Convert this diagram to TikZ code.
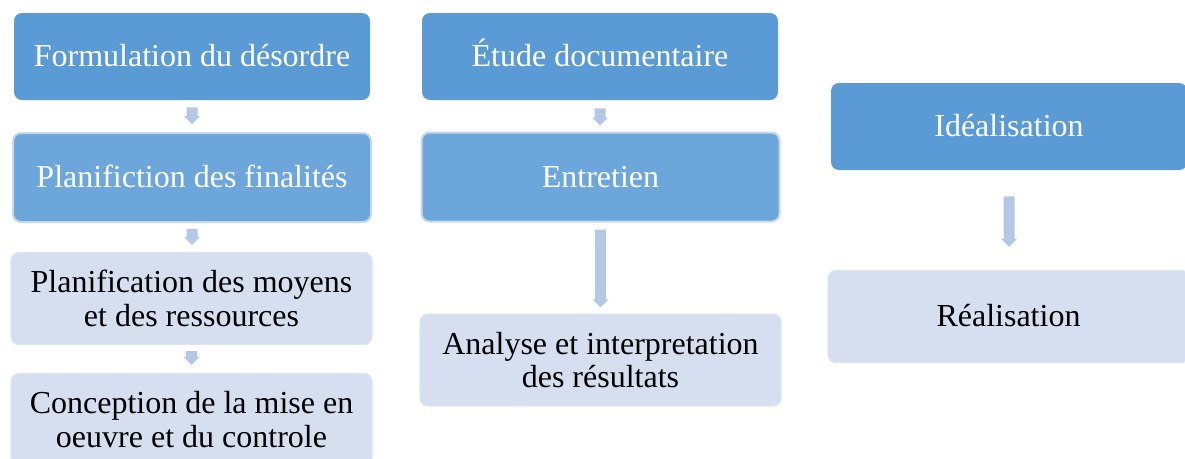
\documentclass[tikz,border=0pt]{standalone}
\usepackage{fontspec}
\setmainfont{Liberation Serif}
\usetikzlibrary{calc}

\definecolor{darkblue}{HTML}{5B9BD5}
\definecolor{midblue}{HTML}{6DA6DA}
\definecolor{glowblue}{HTML}{C7D8EE}
\definecolor{paleblue}{HTML}{D5DFF0}
\definecolor{paleedge}{HTML}{DDE6F4}
\definecolor{arrowblue}{HTML}{B4C7E7}

\tikzset{
  box/.style={rectangle, rounded corners=6pt, inner sep=0pt, align=center,
    font=\fontsize{24}{25}\selectfont,
    minimum width=267pt, minimum height=65.25pt},
  oneline/.style={text height=20pt, text depth=5pt},
  darkbox/.style={box, fill=darkblue, text=white},
  midbox/.style={box, fill=midblue, draw=glowblue, line width=1.5pt, text=white,
    minimum width=268.5pt, minimum height=66.75pt},
  palebox/.style={box, fill=paleblue, draw=paleedge, line width=1pt, text=black,
    minimum width=270.75pt, minimum height=69pt},
}

% Block arrow from the bottom of #1 to the top of #2;
% #3 = gap under #1, #4 = gap above #2 (both in px units)
\newcommand\blockarrow[4]{%
  \fill[arrowblue] let \p1=(#1.south), \p2=(#2.north) in
    ({\x1-4.125pt},{\y1-#3*0.75pt}) -- ({\x1+4.125pt},{\y1-#3*0.75pt})
    -- ({\x1+4.125pt},{\y2+(#4+8)*0.75pt}) -- ({\x1+6pt},{\y2+(#4+8)*0.75pt})
    -- ({\x1},{\y2+#4*0.75pt}) -- ({\x1-6pt},{\y2+(#4+8)*0.75pt})
    -- ({\x1-4.125pt},{\y2+(#4+8)*0.75pt}) -- cycle;
}

\begin{document}
\begin{tikzpicture}[x=0.75pt,y=-0.75pt]
  \useasboundingbox (0,0) rectangle (1185,458);
  \clip (0,0) rectangle (1185,458);

  % first column
  \node[darkbox, oneline] (f1) at (192,56.5) {Formulation du désordre};
  \node[midbox, oneline] (f2) at (192,177.5) {Planifiction des finalités};
  \node[palebox] (f3) at (191.5,298.5) {Planification des moyens\\et des ressources};
  \node[palebox] (f4) at (191.5,419.5) {Conception de la mise en\\oeuvre et du controle};

  % second column
  \node[darkbox, oneline] (e1) at (600,56.5) {Étude documentaire};
  \node[midbox, oneline] (e2) at (600.5,177) {Entretien};
  \node[palebox] (e3) at (600.5,360) {Analyse et interpretation\\des résultats};

  % third column
  \node[darkbox, oneline] (i1) at (1009,126.5) {Idéalisation};
  \node[palebox, oneline] (i2) at (1008.5,316.5) {Réalisation};

  % arrows
  \blockarrow{f1}{f2}{7}{8}
  \blockarrow{f2}{f3}{6}{7}
  \blockarrow{f3}{f4}{6}{8}
  \blockarrow{e1}{e2}{8}{6}
  \blockarrow{e2}{e3}{7}{6}
  \blockarrow{i1}{i2}{26}{23}
\end{tikzpicture}
\end{document}
